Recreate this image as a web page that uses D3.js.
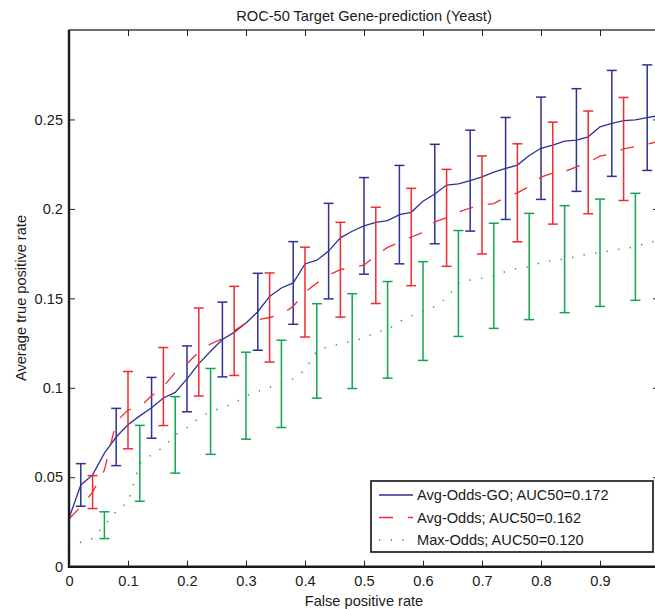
<!DOCTYPE html>
<html lang="en">
<head>
    <meta charset="UTF-8">
    <title>ROC-50 Target Gene-prediction (Yeast)</title>
    <script src="https://d3js.org/d3.v7.min.js"></script>
    <style>
        body { margin: 0; background: #fff; }
        svg { display: block; font-family: "Liberation Sans", Arial, sans-serif; }
        .tick text { font-size: 14.6px; fill: #1a1a1a; }
        .tick line { stroke: #222; }
        .domain { display: none; }
    </style>
</head>
<body>
    <svg class="chart"></svg>

    <script>
        // false positive rate grid
        var fpr = [0, 0.02, 0.04, 0.06, 0.08, 0.10, 0.12, 0.14, 0.16, 0.18,
                   0.20, 0.22, 0.24, 0.26, 0.28, 0.30, 0.32, 0.34, 0.36, 0.38,
                   0.40, 0.42, 0.44, 0.46, 0.48, 0.50, 0.52, 0.54, 0.56, 0.58,
                   0.60, 0.62, 0.64, 0.66, 0.68, 0.70, 0.72, 0.74, 0.76, 0.78,
                   0.80, 0.82, 0.84, 0.86, 0.88, 0.90, 0.92, 0.94, 0.96, 0.98, 1.00];

        // average true positive rate per method
        var avgOddsGO = [0.0271, 0.0457, 0.0513, 0.0635, 0.0725, 0.0793, 0.0843, 0.0888, 0.0943, 0.0974,
                         0.1050, 0.1135, 0.1204, 0.1270, 0.1310, 0.1362, 0.1425, 0.1511, 0.1558, 0.1586,
                         0.1692, 0.1713, 0.1764, 0.1838, 0.1875, 0.1905, 0.1925, 0.1935, 0.1968, 0.1981,
                         0.2043, 0.2083, 0.2133, 0.2140, 0.2158, 0.2179, 0.2205, 0.2226, 0.2245, 0.2299,
                         0.2339, 0.2357, 0.2379, 0.2385, 0.2403, 0.2459, 0.2478, 0.2493, 0.2498, 0.2510, 0.2522];
        var avgOdds = [0.0267, 0.0335, 0.0417, 0.0540, 0.0810, 0.0875, 0.0893, 0.0955, 0.1007, 0.1085,
                       0.1135, 0.1200, 0.1245, 0.1275, 0.1318, 0.1362, 0.1380, 0.1393, 0.1410, 0.1455,
                       0.1535, 0.1585, 0.1630, 0.1660, 0.1672, 0.1685, 0.1740, 0.1785, 0.1812, 0.1843,
                       0.1868, 0.1928, 0.1950, 0.1982, 0.2005, 0.2022, 0.2030, 0.2065, 0.2090, 0.2125,
                       0.2178, 0.2200, 0.2208, 0.2235, 0.2260, 0.2295, 0.2308, 0.2335, 0.2348, 0.2362, 0.2378];
        var maxOdds = [0.0112, 0.0137, 0.0158, 0.0232, 0.0310, 0.0360, 0.0578, 0.0625, 0.0668, 0.0737,
                       0.0778, 0.0830, 0.0868, 0.0888, 0.0915, 0.0956, 0.0980, 0.1003, 0.1022, 0.1050,
                       0.1100, 0.1206, 0.1232, 0.1245, 0.1261, 0.1278, 0.1312, 0.1324, 0.1370, 0.1402,
                       0.1429, 0.1455, 0.1502, 0.1583, 0.1602, 0.1613, 0.1626, 0.1650, 0.1668, 0.1678,
                       0.1700, 0.1712, 0.1719, 0.1734, 0.1748, 0.1755, 0.1768, 0.1778, 0.1788, 0.1810, 0.1825];

        // error bar positions and half-widths
        var goErrX = [0.02, 0.08, 0.14, 0.20, 0.26, 0.32, 0.38, 0.44, 0.50, 0.56, 0.62, 0.68, 0.74, 0.80, 0.86, 0.92, 0.98];
        var goErr  = [0.0119, 0.0160, 0.0170, 0.0184, 0.0209, 0.0215, 0.0231, 0.0267, 0.0270, 0.0275, 0.0278, 0.0282, 0.0285, 0.0286, 0.0287, 0.0296, 0.0295];
        var avgErrX = [0.04, 0.10, 0.16, 0.22, 0.28, 0.34, 0.40, 0.46, 0.52, 0.58, 0.64, 0.70, 0.76, 0.82, 0.88, 0.94];
        var avgErr  = [0.0092, 0.0216, 0.0218, 0.0246, 0.0249, 0.0249, 0.0251, 0.0265, 0.0269, 0.0272, 0.0271, 0.0274, 0.0274, 0.0285, 0.0287, 0.0288];
        var maxErrX = [0.06, 0.12, 0.18, 0.24, 0.30, 0.36, 0.42, 0.48, 0.54, 0.60, 0.66, 0.72, 0.78, 0.84, 0.90, 0.96];
        var maxErr  = [0.0075, 0.0212, 0.0214, 0.0240, 0.0243, 0.0244, 0.0264, 0.0265, 0.0270, 0.0276, 0.0296, 0.0294, 0.0297, 0.0299, 0.0300, 0.0299];

        var legendLabels = ['Avg-Odds-GO; AUC50=0.172', 'Avg-Odds; AUC50=0.162', 'Max-Odds; AUC50=0.120'];
        var xTicks = [0, 0.1, 0.2, 0.3, 0.4, 0.5, 0.6, 0.7, 0.8, 0.9, 1];
        var xTickLabels = ['0', '0.1', '0.2', '0.3', '0.4', '0.5', '0.6', '0.7', '0.8', '0.9', ''];
        var yTicks = [0, 0.05, 0.1, 0.15, 0.2, 0.25];
        var yTickLabels = ['0', '0.05', '0.1', '0.15', '0.2', '0.25'];

        var svgWidth = 655, svgHeight = 609;
        var plotLeft = 69, plotRight = 659, plotTop = 30, plotBottom = 566.7;
        var fontSize = 14.6;

        var svg = d3.select('.chart')
                    .attr('width', svgWidth)
                    .attr('height', svgHeight);

        var x = d3.scaleLinear().domain([0, 1]).range([plotLeft, plotRight]);
        var y = d3.scaleLinear().domain([0, 0.3]).range([plotBottom, plotTop]);

        var series = [
            { vals: avgOddsGO, errX: goErrX, err: goErr, color: '#2e3192', dash: null, width: 1.3 },
            { vals: avgOdds, errX: avgErrX, err: avgErr, color: '#ee2b30', dash: '14,15', width: 1.3 },
            { vals: maxOdds, errX: maxErrX, err: maxErr, color: '#10a552', dash: '1.3,10.4', width: 1.5 }
        ];

        var line = d3.line()
                     .x((d, i) => x(fpr[i]))
                     .y(d => y(d));

        series.forEach(function(s) {
            var g = svg.append('g');
            g.append('path')
             .datum(s.vals)
             .attr('d', line)
             .attr('fill', 'none')
             .attr('stroke', s.color)
             .attr('stroke-width', s.width)
             .attr('stroke-dasharray', s.dash);

            // error bars, centred on the curve value at that x
            var bars = s.errX.map(function(xv, i) {
                var idx = fpr.findIndex(f => Math.abs(f - xv) < 1e-9);
                return { x: xv, v: s.vals[idx], e: s.err[i] };
            });
            var eb = g.selectAll('.eb').data(bars).enter().append('g')
                      .attr('stroke', s.color).attr('stroke-width', 1.5).attr('fill', 'none');
            eb.append('line')
              .attr('x1', d => x(d.x)).attr('x2', d => x(d.x))
              .attr('y1', d => y(d.v - d.e)).attr('y2', d => y(d.v + d.e));
            eb.append('line')
              .attr('x1', d => x(d.x) - 5).attr('x2', d => x(d.x) + 5)
              .attr('y1', d => y(d.v + d.e)).attr('y2', d => y(d.v + d.e));
            eb.append('line')
              .attr('x1', d => x(d.x) - 5).attr('x2', d => x(d.x) + 5)
              .attr('y1', d => y(d.v - d.e)).attr('y2', d => y(d.v - d.e));
        });

        // axes with inward ticks
        svg.append('g')
           .attr('transform', 'translate(0,' + plotBottom + ')')
           .call(d3.axisBottom(x).tickValues(xTicks).tickSize(-6).tickPadding(9)
                   .tickFormat((d, i) => xTickLabels[i]));
        svg.append('g')
           .attr('transform', 'translate(0,' + plotTop + ')')
           .call(d3.axisTop(x).tickValues(xTicks).tickSize(-6).tickFormat(''));
        svg.append('g')
           .attr('transform', 'translate(' + plotLeft + ',0)')
           .call(d3.axisLeft(y).tickValues(yTicks).tickSize(-6).tickPadding(6)
                   .tickFormat((d, i) => yTickLabels[i]));
        svg.append('g')
           .attr('transform', 'translate(' + plotRight + ',0)')
           .call(d3.axisRight(y).tickValues(yTicks).tickSize(-6).tickFormat(''));

        // plot frame: thin box, heavier left and bottom
        svg.append('rect')
           .attr('x', plotLeft).attr('y', plotTop)
           .attr('width', plotRight - plotLeft).attr('height', plotBottom - plotTop)
           .attr('fill', 'none').attr('stroke', '#222').attr('stroke-width', 1.3);
        svg.append('path')
           .attr('d', 'M' + plotLeft + ',' + plotTop + 'V' + plotBottom + 'H' + plotRight)
           .attr('fill', 'none').attr('stroke', '#1a1a1a').attr('stroke-width', 2.4);

        // title and axis labels
        svg.append('text')
           .attr('x', (plotLeft + plotRight) / 2).attr('y', 20.5)
           .attr('text-anchor', 'middle').attr('font-size', fontSize).attr('fill', '#1a1a1a')
           .text('ROC-50 Target Gene-prediction (Yeast)');
        svg.append('text')
           .attr('x', (plotLeft + plotRight) / 2).attr('y', 606)
           .attr('text-anchor', 'middle').attr('font-size', fontSize).attr('fill', '#1a1a1a')
           .text('False positive rate');
        svg.append('text')
           .attr('transform', 'translate(25.5,' + 298 + ') rotate(-90)')
           .attr('text-anchor', 'middle').attr('font-size', fontSize).attr('fill', '#1a1a1a')
           .text('Average true positive rate');

        // legend
        var legend = svg.append('g');
        legend.append('rect')
              .attr('x', 371).attr('y', 481).attr('width', 282).attr('height', 71)
              .attr('fill', '#fff').attr('stroke', '#111').attr('stroke-width', 1.6);
        var items = legend.selectAll('.item').data(series).enter().append('g')
                          .attr('transform', (d, i) => 'translate(0,' + (495 + i * 22.5) + ')');
        items.append('line')
             .attr('x1', 379).attr('x2', 413).attr('y1', 0).attr('y2', 0)
             .attr('stroke', d => d.color).attr('stroke-width', d => d.width)
             .attr('stroke-dasharray', d => d.dash);
        items.append('text')
             .attr('x', 417).attr('y', 0).attr('dy', '0.35em')
             .attr('font-size', fontSize).attr('fill', '#1a1a1a')
             .text((d, i) => legendLabels[i]);
    </script>
</body>
</html>
